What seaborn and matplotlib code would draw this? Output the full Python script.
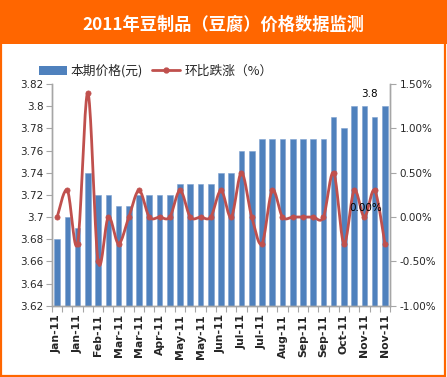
import numpy as np
import pandas as pd
import matplotlib
matplotlib.use("Agg")
import matplotlib.pyplot as plt
import seaborn as sns
from matplotlib.patches import Rectangle, Patch
from matplotlib.lines import Line2D
from matplotlib.ticker import FuncFormatter, FixedLocator

sns.set_theme(style="white")
plt.rcParams['font.family'] = ['DejaVu Sans', 'Noto Sans CJK SC']

title = "2011年豆制品（豆腐）价格数据监测"
series_bar = "本期价格(元)"
series_line = "环比跌涨（%）"

periods = ["Jan-11", "Jan-11", "Jan-11", "Feb-11", "Feb-11", "Feb-11",
           "Mar-11", "Mar-11", "Mar-11", "Apr-11", "Apr-11", "Apr-11",
           "May-11", "May-11", "May-11", "Jun-11", "Jun-11", "Jun-11",
           "Jul-11", "Jul-11", "Jul-11", "Aug-11", "Aug-11", "Aug-11",
           "Sep-11", "Sep-11", "Sep-11", "Oct-11", "Oct-11", "Oct-11",
           "Nov-11", "Nov-11", "Nov-11"]

price = [3.68, 3.70, 3.69, 3.74, 3.72, 3.72, 3.71, 3.71, 3.72, 3.72, 3.72,
         3.72, 3.73, 3.73, 3.73, 3.73, 3.74, 3.74, 3.76, 3.76, 3.77, 3.77,
         3.77, 3.77, 3.77, 3.77, 3.77, 3.79, 3.78, 3.80, 3.80, 3.79, 3.80]

change_pct = [0.0, 0.3, -0.3, 1.4, -0.5, 0.0, -0.3, 0.0, 0.3, 0.0, 0.0,
              0.0, 0.3, 0.0, 0.0, 0.0, 0.3, 0.0, 0.5, 0.0, -0.3, 0.3,
              0.0, 0.0, 0.0, 0.0, 0.0, 0.5, -0.3, 0.3, 0.0, 0.3, -0.3]

left_ticks = [3.62, 3.64, 3.66, 3.68, 3.70, 3.72, 3.74, 3.76, 3.78, 3.80, 3.82]
right_ticks = [-1.0, -0.5, 0.0, 0.5, 1.0, 1.5]

ORANGE = "#FF6600"
BLUE = "#4F81BD"
RED = "#C0504D"
GRAY = "#A6A6A6"

W, H = 447, 377
fig = plt.figure(figsize=(W / 100, H / 100), dpi=100)
fig.patch.set_facecolor("white")

# frame and title bar
fig.patches.append(Rectangle((0, 1 - 44 / H), 1, 44 / H, transform=fig.transFigure,
                             facecolor=ORANGE, edgecolor="none", zorder=0))
fig.patches.append(Rectangle((0.5 / W, 1.0 / H), (W - 2.5) / W, (H - 2) / H,
                             transform=fig.transFigure, facecolor="none",
                             edgecolor=ORANGE, linewidth=1.6, zorder=0))
fig.text(223 / W, 1 - 24.5 / H, title, color="white", fontsize=12.4,
         fontweight="bold", ha="center", va="center",
         family=["Noto Sans CJK SC", "DejaVu Sans"])

x0, x1, ytop, ybot = 52, 390, 84, 305.7
ax = fig.add_axes([x0 / W, 1 - ybot / H, (x1 - x0) / W, (ybot - ytop) / H])

n = len(price)
df = pd.DataFrame({"idx": np.arange(n), "price": price, "chg": change_pct})

sns.barplot(data=df, x="idx", y="price", ax=ax, color=BLUE, width=0.55,
            saturation=1, edgecolor="#7FA2D0", linewidth=0.4)
ax.set_xlim(-0.5, n - 0.5)
ax.set_ylim(3.62, 3.82)
ax.set_yticks(left_ticks)
ax.yaxis.set_major_formatter(FuncFormatter(lambda v, p: f"{v:.2f}".rstrip("0").rstrip(".")))
ax.set_xlabel("")
ax.set_ylabel("")

label_pos = list(range(0, n, 2))
ax.xaxis.set_major_locator(FixedLocator(label_pos))
ax.set_xticklabels([periods[i] for i in label_pos], rotation=90,
                   fontsize=7.8, fontweight="bold")
ax.xaxis.set_minor_locator(FixedLocator(np.arange(-0.5, n, 1.0)))
ax.tick_params(axis="x", which="major", length=0, pad=6)
ax.tick_params(axis="x", which="minor", length=4, color=GRAY, width=0.8)
ax.tick_params(axis="y", which="major", length=4, color=GRAY, width=0.8,
               labelsize=7.5, pad=2)
ax.tick_params(axis="x", which="both", bottom=True)
ax.tick_params(axis="y", left=True)

for s in ["left", "bottom", "right"]:
    ax.spines[s].set_color(GRAY)
    ax.spines[s].set_linewidth(1.0)
ax.spines["top"].set_visible(False)
ax.grid(False)

ax.text(30.5, 3.811, "3.8", fontsize=7.5, ha="center", va="center", color="black")

# secondary axis: smooth line (Excel-style Bezier through data points)
ax2 = ax.twinx()
xs = np.arange(n, dtype=float)
ys = np.array(change_pct, dtype=float)
px = np.concatenate([[xs[0]], xs, [xs[-1]]])
py = np.concatenate([[ys[0]], ys, [ys[-1]]])
cx, cy = [], []
t = np.linspace(0, 1, 20)
for i in range(n - 1):
    p0 = np.array([px[i + 1], py[i + 1]])
    p3 = np.array([px[i + 2], py[i + 2]])
    p1 = p0 + (np.array([px[i + 2], py[i + 2]]) - np.array([px[i], py[i]])) / 6
    p2 = p3 - (np.array([px[i + 3], py[i + 3]]) - np.array([px[i + 1], py[i + 1]])) / 6
    b = ((1 - t) ** 3)[:, None] * p0 + (3 * (1 - t) ** 2 * t)[:, None] * p1 + \
        (3 * (1 - t) * t ** 2)[:, None] * p2 + (t ** 3)[:, None] * p3
    cx.extend(b[:, 0])
    cy.extend(b[:, 1])
ax2.plot(cx, cy, color=RED, linewidth=2.0, solid_capstyle="round", zorder=3)
sns.scatterplot(data=df, x="idx", y="chg", ax=ax2, color=RED, s=14,
                edgecolor=RED, linewidth=0.5, zorder=4, legend=False)
ax2.set_ylim(-1.0, 1.5)
ax2.set_yticks(right_ticks)
ax2.yaxis.set_major_formatter(FuncFormatter(lambda v, p: f"{v:.2f}%"))
ax2.tick_params(axis="y", right=True, length=4, color=GRAY, width=0.8,
                labelsize=7.5, pad=3)
ax2.set_xlim(-0.5, n - 0.5)
ax2.set_xlabel("")
ax2.set_ylabel("")
for s in ["left", "bottom", "right"]:
    ax2.spines[s].set_color(GRAY)
    ax2.spines[s].set_linewidth(1.0)
ax2.spines["top"].set_visible(False)
ax2.grid(False)
ax2.text(30.15, 0.10, "0.00%", fontsize=7.5, ha="center", va="center", color="black")

handles = [Patch(facecolor=BLUE, edgecolor="none"),
           Line2D([0], [0], color=RED, linewidth=2.0, marker="o", markersize=3.5)]
fig.legend(handles, [series_bar, series_line], loc="center left",
           bbox_to_anchor=(39 / W, 1 - 71 / H), ncol=2, frameon=False,
           prop={"family": ["Noto Sans CJK SC", "DejaVu Sans"], "size": 9.2},
           handlelength=2.2, handleheight=0.7, handletextpad=0.3,
           columnspacing=0.7, borderaxespad=0, borderpad=0)

fig.savefig("out.png", dpi=100, facecolor="white")
